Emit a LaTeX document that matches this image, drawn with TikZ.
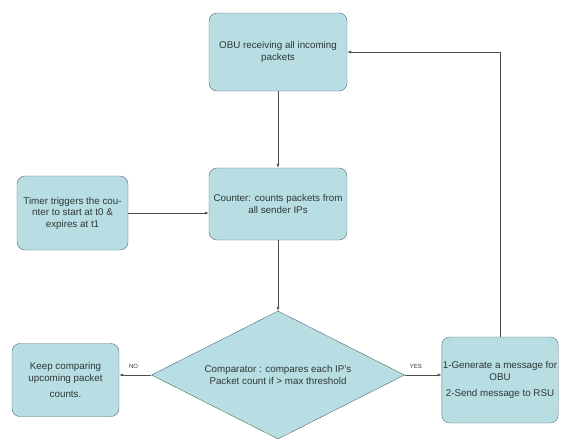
\documentclass[tikz,border=0pt]{standalone}
\usepackage{fontspec}
\setmainfont{Liberation Sans}
\usetikzlibrary{shapes.geometric,arrows.meta}
\definecolor{boxfill}{RGB}{184,222,227}
\definecolor{boxline}{RGB}{80,108,112}
\definecolor{txt}{RGB}{45,55,55}
\begin{document}
\begin{tikzpicture}[x=1pt,y=-1pt,
  blok/.style={draw=boxline, fill=boxfill, rounded corners=8pt, align=center, text=txt, font=\fontsize{9.8}{11.5}\selectfont, inner sep=1pt},
  ruit/.style={draw=boxline, fill=boxfill, diamond, aspect=2, align=center, text=txt, font=\fontsize{9.8}{11.5}\selectfont, inner sep=0pt, minimum width=253pt, minimum height=128pt},
  pijl/.style={draw=black!70, line width=0.6pt, -{Latex[length=4pt,width=3pt]}},
  keuze/.style={font=\fontsize{6}{7}\selectfont, text=txt}]
\useasboundingbox (0,0) rectangle (562,442);
\node[blok, minimum width=138pt, minimum height=78pt] (obu) at (278,52) {OBU receiving all incoming\\packets};
\node[blok, minimum width=138pt, minimum height=72pt] (teller) at (278,204) {Counter: counts packets from\\all sender IPs};
\node[blok, minimum width=111pt, minimum height=74pt] (timer) at (72.5,213) {Timer triggers the cou-\\nter to start at t0 \&\\expires at t1};
\node[ruit] (vergelijk) at (278,375) {Comparator : compares each IP's\\Packet count if > max threshold};
\node[blok, minimum width=107pt, minimum height=73pt] (verder) at (65.5,380) {Keep comparing\\upcoming packet\\[5pt]counts.};
\node[blok, minimum width=115pt, minimum height=86pt] (melding) at (500,380) {1-Generate a message for\\OBU\\[5pt]2-Send message to RSU};
\draw[pijl] (obu) -- (teller);
\draw[pijl] (timer.east) -- (timer.east -| teller.west);
\draw[pijl] (teller) -- (vergelijk);
\draw[pijl] (vergelijk.west) -- (vergelijk.west -| verder.east) node[keuze, pos=0.55, above=3pt] {NO};
\draw[pijl] (vergelijk.east) -- (vergelijk.east -| melding.west) node[keuze, pos=0.3, above=3pt] {YES};
\draw[pijl] (melding.north) |- (obu.east);
\end{tikzpicture}
\end{document}
